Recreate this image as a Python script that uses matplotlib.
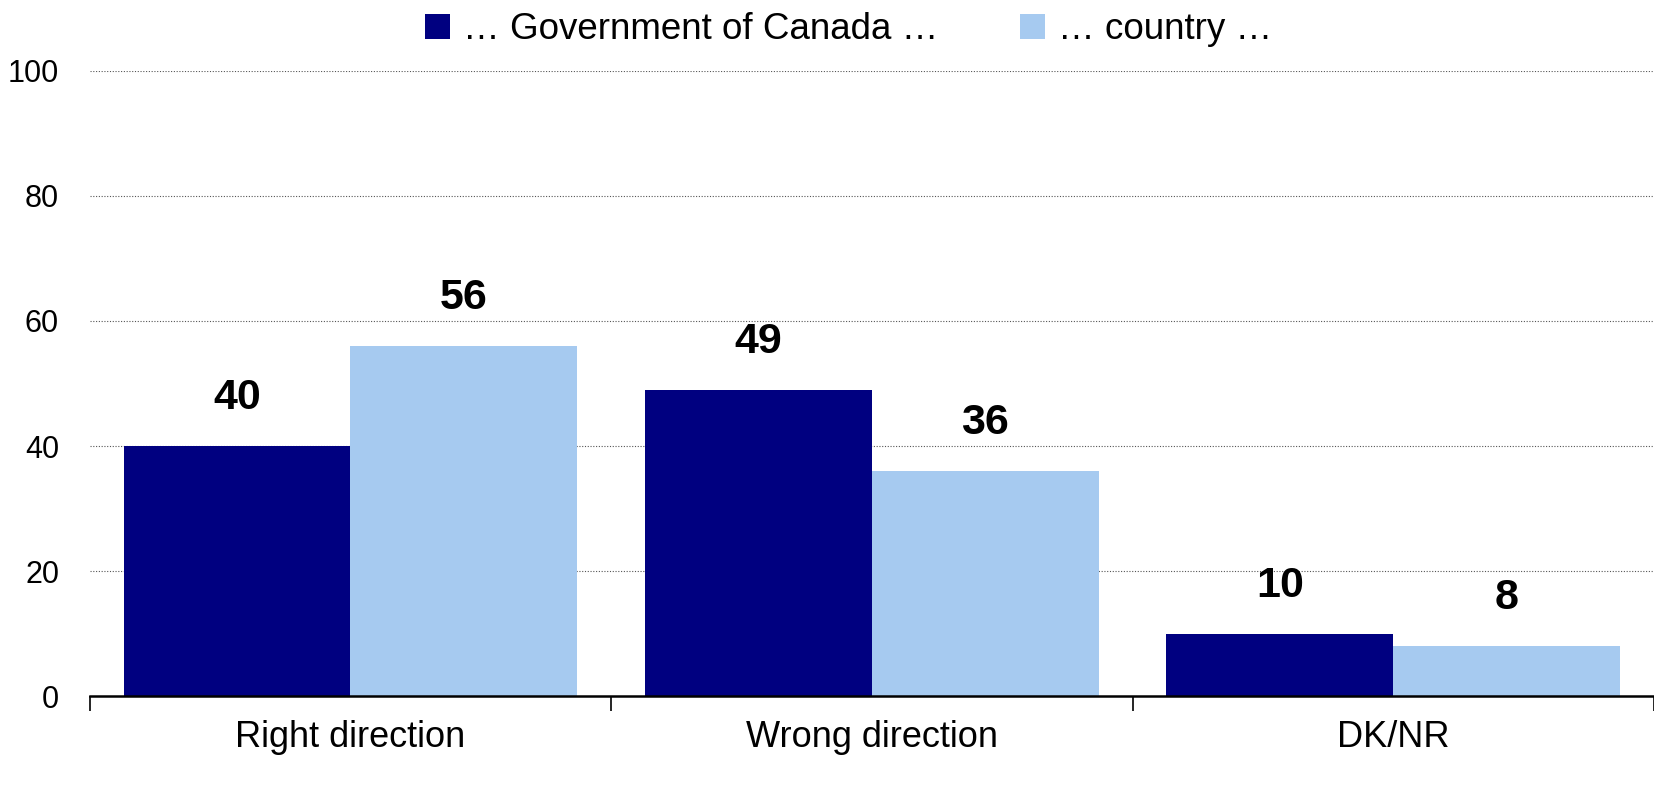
import numpy as np
import matplotlib
matplotlib.use('Agg')
import matplotlib.pyplot as plt

matplotlib.rcParams['font.family'] = ['Liberation Sans', 'DejaVu Sans']

categories = ['Right direction', 'Wrong direction', 'DK/NR']
series_names = ['\u2026 Government of Canada \u2026', '\u2026 country \u2026']
gov_values = [40, 49, 10]
country_values = [56, 36, 8]
y_ticks = [0, 20, 40, 60, 80, 100]

dark = '#000080'
light = '#A6CAF0'

fig = plt.figure(figsize=(16.54, 7.85), dpi=100)
ax = fig.add_axes([0.0542, 0.113, 0.9458, 0.797])

x = np.arange(len(categories))
w = 0.435
b1 = ax.bar(x - w / 2, gov_values, w, color=dark, label=series_names[0], zorder=3)
b2 = ax.bar(x + w / 2, country_values, w, color=light, label=series_names[1], zorder=3)

# value labels above bars
for bars in (b1, b2):
    for r in bars:
        ax.annotate(f'{r.get_height():g}', (r.get_x() + r.get_width() / 2, r.get_height()),
                    xytext=(0, 20), textcoords='offset points', ha='center', va='bottom',
                    fontsize=31, fontweight='bold')

ax.set_xlim(-0.5, len(categories) - 0.5)
ax.set_ylim(0, 100)
ax.set_yticks(y_ticks)
ax.tick_params(axis='y', length=0, labelsize=22, pad=22)

ax.set_xticks(x)
ax.set_xticklabels(categories, fontsize=26)
ax.set_xticks(np.arange(len(categories) + 1) - 0.5, minor=True)
ax.tick_params(axis='x', which='major', length=0, pad=17)
ax.tick_params(axis='x', which='minor', length=11, width=1.2, direction='out', color='black')

for s in ['left', 'right', 'top']:
    ax.spines[s].set_visible(False)
ax.spines['bottom'].set_linewidth(1.8)
ax.spines['bottom'].set_zorder(4)

for v in y_ticks[1:]:
    ax.axhline(v, color='#555555', linestyle=(0, (1, 1.5)), linewidth=0.8, zorder=1)

fig.legend(loc='center', bbox_to_anchor=(0.513, 0.962), ncol=2, frameon=False,
           fontsize=26.5, handlelength=0.7, handleheight=0.7, handletextpad=0.35,
           columnspacing=2.2)

plt.savefig('out.png', dpi=100)
